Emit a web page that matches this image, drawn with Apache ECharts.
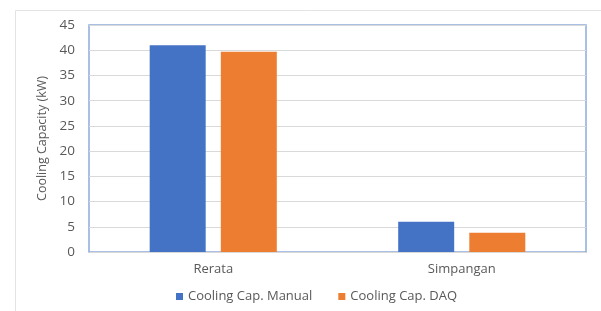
<!DOCTYPE html>
<html><head><meta charset="utf-8">
<script src="https://cdn.jsdelivr.net/npm/echarts@6/dist/echarts.min.js"></script>
<style>html,body{margin:0;padding:0;background:#fff}#c{width:601px;height:311px}</style>
</head><body><div id="c"></div>
<script>
const categories = ['Rerata', 'Simpangan'];
const manualValues = [41.0, 6.0];
const daqValues = [39.7, 3.8];
const seriesNames = ['Cooling Cap. Manual', 'Cooling Cap. DAQ'];
const yTitle = 'Cooling Capacity (kW)';

const chart = echarts.init(document.getElementById('c'), null, {renderer: 'canvas'});
const txt = '#595959';
const font = 'Open Sans';
chart.setOption({
  animation: false,
  textStyle: {fontFamily: font},
  graphic: [{type: 'rect', shape: {x: 15.5, y: 10.5, width: 700, height: 400}, style: {fill: 'none', stroke: '#e3e3e3', lineWidth: 1}, z: -1}],
  grid: {left: 89, right: 15, top: 25, bottom: 59, show: true, borderColor: '#8eaadb', borderWidth: 1.5, backgroundColor: 'transparent'},
  legend: {bottom: 3, left: 171, itemWidth: 7, itemHeight: 7, itemGap: 26, icon: 'rect',
    textStyle: {color: txt, fontSize: 13, fontFamily: font}, data: seriesNames},
  xAxis: {type: 'category', data: categories,
    axisLine: {show: true, lineStyle: {color: '#d9d9d9', width: 1}},
    axisTick: {show: false},
    axisLabel: {color: txt, fontSize: 13, margin: 11, fontFamily: font}},
  yAxis: {type: 'value', min: 0, max: 45, interval: 5,
    name: yTitle, nameLocation: 'middle', nameGap: 36, nameRotate: 90,
    nameTextStyle: {color: txt, fontSize: 12.5, fontFamily: font},
    axisLine: {show: false}, axisTick: {show: false},
    axisLabel: {color: txt, fontSize: 13.5, margin: 14, fontFamily: font},
    splitLine: {lineStyle: {color: '#d9d9d9', width: 1.2}}},
  series: [
    {name: seriesNames[0], type: 'bar', data: manualValues, barWidth: 56, barGap: '27%', itemStyle: {color: '#4472c4'}},
    {name: seriesNames[1], type: 'bar', data: daqValues, barWidth: 56, itemStyle: {color: '#ed7d31'}}
  ]
});
</script></body></html>
